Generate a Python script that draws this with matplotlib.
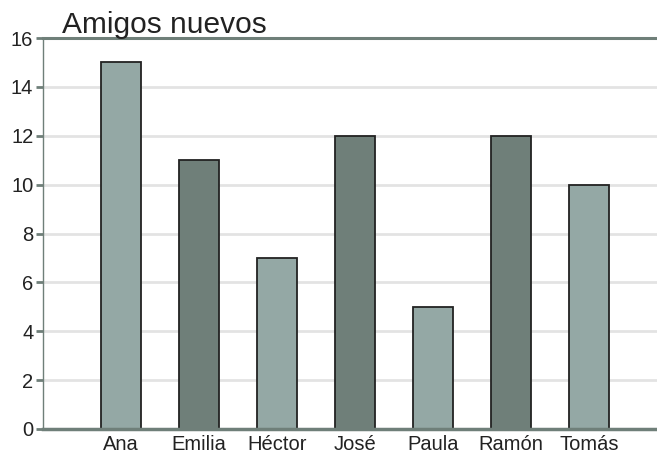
import matplotlib.pyplot as plt

names = ['Ana', 'Emilia', 'Héctor', 'José', 'Paula', 'Ramón', 'Tomás']
friends = [15, 11, 7, 12, 5, 12, 10]
bar_colors = ['#94a8a5', '#6f7f79', '#94a8a5', '#6f7f79', '#94a8a5', '#6f7f79', '#94a8a5']
y_ticks = [0, 2, 4, 6, 8, 10, 12, 14, 16]

plt.rcParams['font.family'] = ['Liberation Sans', 'DejaVu Sans']

fig = plt.figure(figsize=(6.57, 4.54), dpi=100)
ax = fig.add_axes([43 / 657, 1 - 429 / 454, 614 / 657, 391 / 454])

axis_color = '#6f7f79'
positions = list(range(1, len(names) + 1))
ax.bar(positions, friends, width=0.513, color=bar_colors,
       edgecolor='#222222', linewidth=1.3, zorder=3)

ax.set_xlim(0, 614 / 78)
ax.set_ylim(0, 16)
ax.set_yticks(y_ticks)
ax.set_xticks(positions)
ax.set_xticklabels(names)

ax.grid(axis='y', color='#e3e3e3', linewidth=2, zorder=0)
ax.set_axisbelow(True)

ax.spines['right'].set_visible(False)
ax.spines['left'].set_color(axis_color)
ax.spines['left'].set_linewidth(1)
ax.spines['top'].set_color(axis_color)
ax.spines['top'].set_linewidth(2.2)
ax.spines['bottom'].set_color(axis_color)
ax.spines['bottom'].set_linewidth(2.5)
ax.spines['bottom'].set_zorder(4)

ax.tick_params(axis='y', length=5, width=2, color=axis_color, labelsize=14.5,
               labelcolor='#222222', pad=2)
ax.tick_params(axis='x', length=0, labelsize=14.5, labelcolor='#222222', pad=4)

fig.text(62 / 657, 1 - 33 / 454, 'Amigos nuevos', fontsize=21.5, color='#222222',
         ha='left', va='baseline')

fig.savefig('out.png', dpi=100)
